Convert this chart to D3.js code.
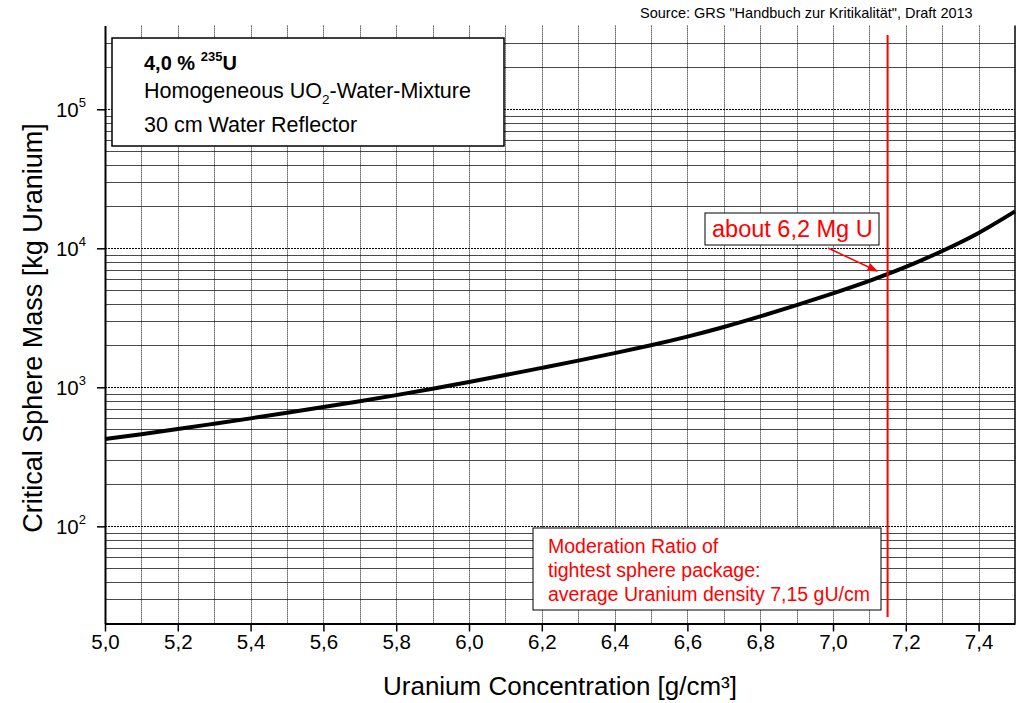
<!DOCTYPE html>
<html>
<head>
<meta charset="utf-8">
<title>Critical sphere mass</title>
<script src="https://d3js.org/d3.v7.min.js"></script>
<style>
  body { margin:0; background:#fff; }
  text { font-family: Arial, "Liberation Sans", sans-serif; }
</style>
</head>
<body>
<svg id="chart" width="1019" height="703"></svg>
<script>
// values
var conc = [5.0, 5.1, 5.2, 5.3, 5.4, 5.5, 5.6, 5.7, 5.8, 5.9, 6.0, 6.1, 6.2,
            6.3, 6.4, 6.5, 6.6, 6.7, 6.8, 6.9, 7.0, 7.1, 7.2, 7.3, 7.4, 7.5];
var mass = [425, 460, 501, 547, 598, 656, 721, 794, 879, 977, 1091, 1225, 1380,
            1556, 1762, 2009, 2317, 2716, 3236, 3899, 4742, 5834, 7345, 9572, 12910, 18450];
var xMajor = [5.0, 5.2, 5.4, 5.6, 5.8, 6.0, 6.2, 6.4, 6.6, 6.8, 7.0, 7.2, 7.4];
var xMinor = [5.1, 5.3, 5.5, 5.7, 5.9, 6.1, 6.3, 6.5, 6.7, 6.9, 7.1, 7.3, 7.5];
var yMajor = [1e2, 1e3, 1e4, 1e5];
var yMinor = [20, 30, 40, 50, 60, 70, 80, 90,
              200, 300, 400, 500, 600, 700, 800, 900,
              2000, 3000, 4000, 5000, 6000, 7000, 8000, 9000,
              20000, 30000, 40000, 50000, 60000, 70000, 80000, 90000,
              200000, 300000];
var moderationX = 7.15;
var estimateLabel = "about 6,2 Mg U";
var noteLines = ["Moderation Ratio of", "tightest sphere package:", "average Uranium density 7,15 gU/cm"];
var sourceText = "Source: GRS \"Handbuch zur Kritikalität\", Draft 2013";

var svg = d3.select("#chart");
svg.append("rect").attr("width", 1019).attr("height", 703).attr("fill", "#fff");

var x = d3.scaleLinear().domain([5.0, 7.5]).range([105, 1015]);
var y = d3.scaleLog().domain([20, 4e5]).range([623.5, 25.6]);

// horizontal grid
svg.append("g").selectAll("line")
  .data(yMinor.concat(yMajor))
  .enter().append("line")
  .attr("x1", x(5.0)).attr("x2", x(7.5))
  .attr("y1", function(d){ return Math.round(y(d)) + 0.5; })
  .attr("y2", function(d){ return Math.round(y(d)) + 0.5; })
  .attr("stroke", function(d){ return yMajor.indexOf(d) >= 0 ? "#000" : "#4a4a4a"; })
  .attr("stroke-dasharray", function(d){ return yMajor.indexOf(d) >= 0 ? "2,1" : null; })
  .attr("stroke-width", 1);

// vertical grid (dotted)
svg.append("g").selectAll("line")
  .data(xMajor.slice(1).concat(xMinor.slice(0, -1)))
  .enter().append("line")
  .attr("x1", function(d){ return Math.round(x(d)) + 0.5; })
  .attr("x2", function(d){ return Math.round(x(d)) + 0.5; })
  .attr("y1", y(4e5)).attr("y2", y(20))
  .attr("stroke", "#111")
  .attr("stroke-dasharray", "1,1")
  .attr("stroke-width", 1);

// right border
svg.append("line")
  .attr("x1", x(7.5)).attr("x2", x(7.5))
  .attr("y1", y(4e5)).attr("y2", y(20))
  .attr("stroke", "#000").attr("stroke-width", 1.5);

// curve
var line = d3.line()
  .x(function(d, i){ return x(conc[i]); })
  .y(function(d){ return y(d); })
  .curve(d3.curveNatural);
svg.append("path")
  .datum(mass)
  .attr("d", line)
  .attr("fill", "none")
  .attr("stroke", "#000")
  .attr("stroke-width", 4);

// red vertical line at 7,15
svg.append("line")
  .attr("x1", x(moderationX)).attr("x2", x(moderationX))
  .attr("y1", 35).attr("y2", 617)
  .attr("stroke", "#ff0000").attr("stroke-width", 2);

// x axis
var fmt = function(d){ return d3.format(".1f")(d).replace(".", ","); };
var gx = svg.append("g").attr("transform", "translate(0," + y(20) + ")");
gx.call(d3.axisBottom(x).tickValues(xMinor).tickSize(5).tickSizeOuter(0).tickFormat(""));
gx.call(d3.axisBottom(x).tickValues(xMajor).tickSize(8).tickSizeOuter(0).tickFormat(fmt));
gx.selectAll(".domain").attr("stroke-width", 2);
gx.selectAll(".tick line").attr("stroke-width", 1.5);
gx.selectAll(".tick text").attr("font-size", 20.5).attr("font-family", "Arial, 'Liberation Sans', sans-serif")
  .attr("fill", "#000").attr("y", 11);

// y axis
var gy = svg.append("g").attr("transform", "translate(" + x(5.0) + ",0)");
gy.call(d3.axisLeft(y).tickValues(yMinor).tickSize(5).tickSizeOuter(0).tickFormat(""));
gy.call(d3.axisLeft(y).tickValues(yMajor).tickSize(8).tickSizeOuter(0).tickFormat(""));
gy.selectAll(".domain").attr("stroke-width", 2);
gy.selectAll(".tick line").attr("stroke-width", 1.5);

var ylab = svg.append("g").selectAll("text")
  .data(yMajor).enter().append("text")
  .attr("x", 86)
  .attr("y", function(d){ return y(d) + 8; })
  .attr("text-anchor", "end")
  .attr("font-size", 20.5);
ylab.append("tspan").text("10");
ylab.append("tspan").attr("font-size", 13).attr("dy", -10)
  .text(function(d){ return Math.round(Math.log10(d)); });

// axis titles
svg.append("text")
  .attr("x", (x(5.0) + x(7.5)) / 2).attr("y", 695)
  .attr("text-anchor", "middle").attr("font-size", 26)
  .text("Uranium Concentration [g/cm³]");
svg.append("text")
  .attr("transform", "translate(42," + 328 + ") rotate(-90)")
  .attr("text-anchor", "middle").attr("font-size", 27)
  .text("Critical Sphere Mass [kg Uranium]");

// source
svg.append("text")
  .attr("x", 640).attr("y", 18)
  .attr("font-size", 14.5)
  .text(sourceText);

// legend box
svg.append("rect")
  .attr("x", 112).attr("y", 38).attr("width", 392).attr("height", 108)
  .attr("fill", "#fff").attr("stroke", "#000").attr("stroke-width", 1.5);
var t1 = svg.append("text").attr("x", 144).attr("y", 70).attr("font-size", 20).attr("font-weight", "bold");
t1.append("tspan").text("4,0 % ");
t1.append("tspan").attr("font-size", 13).attr("dy", -9).text("235");
t1.append("tspan").attr("dy", 9).text("U");
var t2 = svg.append("text").attr("x", 144).attr("y", 98).attr("font-size", 21.5);
t2.append("tspan").text("Homogeneous UO");
t2.append("tspan").attr("font-size", 13.5).attr("dy", 6).text("2");
t2.append("tspan").attr("dy", -6).text("-Water-Mixture");
svg.append("text").attr("x", 144).attr("y", 132).attr("font-size", 21.5).text("30 cm Water Reflector");

// estimate label with arrow
svg.append("defs").append("marker")
  .attr("id", "arrow").attr("viewBox", "0 0 10 10")
  .attr("refX", 9).attr("refY", 5)
  .attr("markerWidth", 7).attr("markerHeight", 7)
  .attr("orient", "auto")
  .append("path").attr("d", "M0,1 L10,5 L0,9 z").attr("fill", "#ff0000");
svg.append("line")
  .attr("x1", 828).attr("y1", 248).attr("x2", 877).attr("y2", 271)
  .attr("stroke", "#ff0000").attr("stroke-width", 1.5)
  .attr("marker-end", "url(#arrow)");
svg.append("rect")
  .attr("x", 705).attr("y", 213).attr("width", 174).attr("height", 32)
  .attr("fill", "#fff").attr("stroke", "#000").attr("stroke-width", 1);
svg.append("text")
  .attr("x", 712).attr("y", 237).attr("font-size", 23.5)
  .attr("fill", "#ff0000").text(estimateLabel);

// moderation note box
svg.append("rect")
  .attr("x", 533).attr("y", 528).attr("width", 348).attr("height", 82)
  .attr("fill", "#fff").attr("stroke", "#000").attr("stroke-width", 1);
svg.append("g").selectAll("text")
  .data(noteLines).enter().append("text")
  .attr("x", 548)
  .attr("y", function(d, i){ return 553 + i * 24; })
  .attr("font-size", 19.5)
  .attr("fill", "#ff0000")
  .text(function(d){ return d; });
</script>
</body>
</html>
